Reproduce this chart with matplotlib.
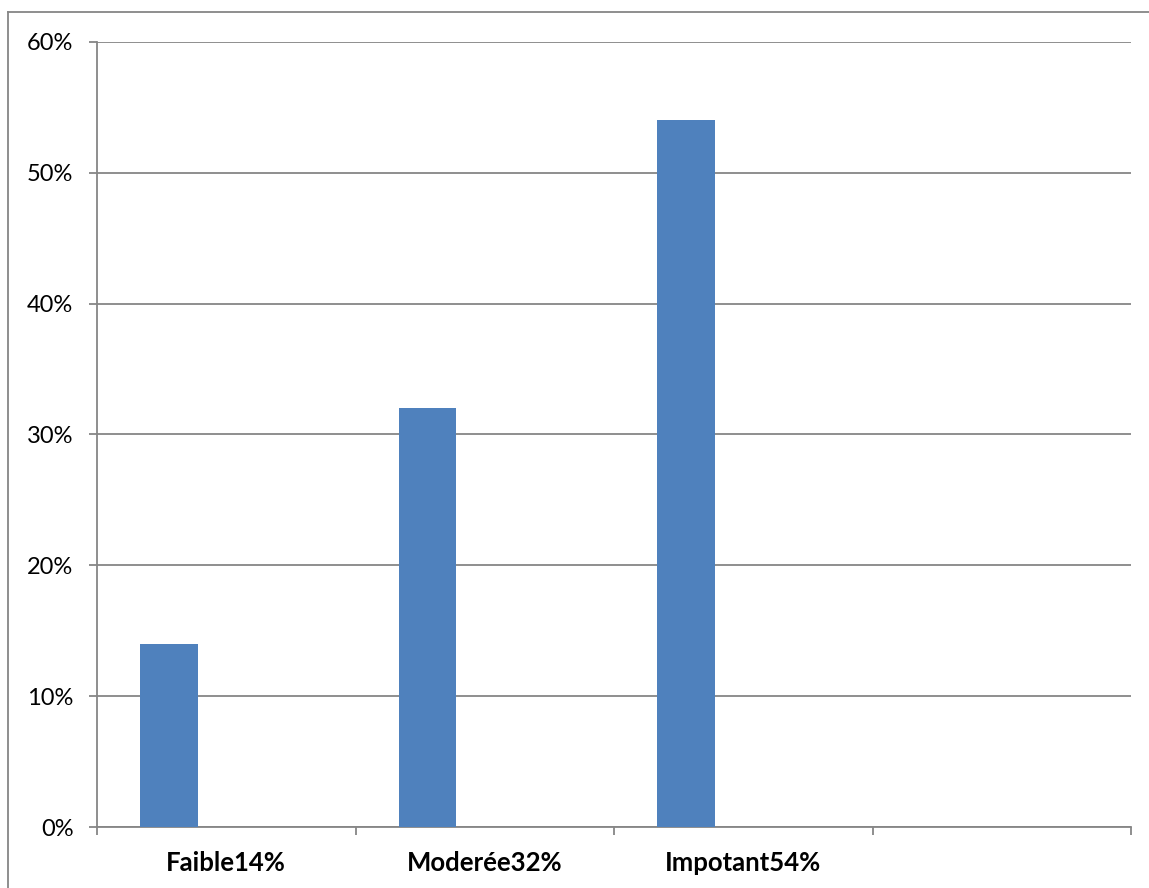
import matplotlib
matplotlib.use("Agg")
import matplotlib.pyplot as plt
from matplotlib.lines import Line2D
from matplotlib.ticker import FixedLocator, PercentFormatter

categories = ["Faible14%", "Moderée32%", "Impotant54%", ""]
values = [14, 32, 54]
y_ticks = [0, 10, 20, 30, 40, 50, 60]

W, H = 1149, 888
fig = plt.figure(figsize=(W / 100, H / 100), dpi=100)
fig.patch.set_facecolor("white")

grey = "#868686"
bar_color = "#4F81BD"

ax = fig.add_axes([97 / W, 1 - 827 / H, (1131 - 97) / W, (827 - 42) / H])

# clustered-bar geometry: three series slots per category, gap width 150%
n_series = 3
gap = 1.5
bw = 1.0 / (n_series + gap)
lefts = [i + gap * bw / 2 for i in range(len(values))]
ax.bar(lefts, values, width=bw, align="edge", color=bar_color, zorder=3)

ax.set_xlim(0, len(categories))
ax.set_ylim(0, 60)

ax.yaxis.set_major_locator(FixedLocator(y_ticks))
ax.yaxis.set_major_formatter(PercentFormatter(decimals=0))
ax.grid(axis="y", color=grey, linewidth=1.3, zorder=0)
ax.set_axisbelow(True)

ax.set_xticks(range(len(categories) + 1))
ax.set_xticklabels([])
ax.set_xticks([i + 0.5 for i in range(len(categories))], minor=True)
ax.set_xticklabels(categories, minor=True, fontsize=18.5, fontweight="bold",
                   family=["Lato", "DejaVu Sans"])
ax.tick_params(axis="x", which="minor", length=0, pad=17)
ax.tick_params(axis="x", which="major", length=6, width=1.3, color=grey,
               direction="out")
ax.tick_params(axis="y", length=6, width=1.3, color=grey, direction="out",
               pad=11, labelsize=17)
for lab in ax.get_yticklabels():
    lab.set_family(["Lato", "DejaVu Sans"])

for side in ("top", "right"):
    ax.spines[side].set_visible(False)
for side in ("left", "bottom"):
    ax.spines[side].set_color(grey)
    ax.spines[side].set_linewidth(1.3)

# outer chart frame
fx, fy = 8 / W, 1 - 12 / H
fig.add_artist(Line2D([fx, fx], [0, fy], color=grey, lw=1.3,
                      transform=fig.transFigure))
fig.add_artist(Line2D([fx, 1], [fy, fy], color=grey, lw=1.3,
                      transform=fig.transFigure))

fig.savefig("out.png", dpi=100, facecolor="white")
